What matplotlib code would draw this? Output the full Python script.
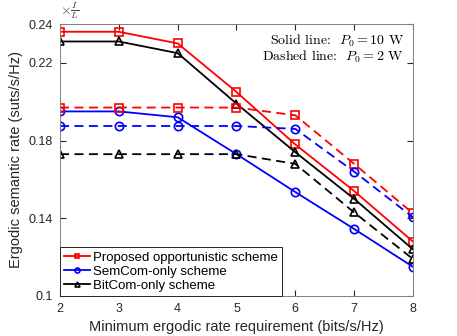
import matplotlib.pyplot as plt
import numpy as np

plt.rcParams['mathtext.fontset'] = 'cm'
plt.rcParams['font.family'] = ['Liberation Sans', 'DejaVu Sans']

x = [2, 3, 4, 5, 6, 7, 8]

# solid lines: P0 = 10 W
prop_10 = [0.236, 0.236, 0.230, 0.205, 0.178, 0.154, 0.128]
sem_10 = [0.195, 0.195, 0.192, 0.173, 0.1535, 0.1345, 0.115]
bit_10 = [0.231, 0.231, 0.225, 0.199, 0.174, 0.150, 0.124]

# dashed lines: P0 = 2 W
prop_2 = [0.197, 0.197, 0.197, 0.197, 0.193, 0.168, 0.1425]
sem_2 = [0.1875, 0.1875, 0.1875, 0.1875, 0.186, 0.164, 0.1405]
bit_2 = [0.173, 0.173, 0.173, 0.173, 0.168, 0.143, 0.119]

names = ['Proposed opportunistic scheme', 'SemCom-only scheme', 'BitCom-only scheme']
yticks = [0.1, 0.14, 0.18, 0.22, 0.24]

fig = plt.figure(figsize=(4.57, 3.36), dpi=100)
ax = fig.add_axes([60/457, 40/336, 353/457, 272/336])

styles = [('r', 's'), ('b', 'o'), ('k', '^')]
for (c, m), y, lab in zip(styles, [prop_10, sem_10, bit_10], names):
    ax.plot(x, y, color=c, marker=m, mfc='none', ms=6, mew=1.2, lw=1.3, label=lab)
for (c, m), y in zip(styles, [prop_2, sem_2, bit_2]):
    ax.plot(x, y, color=c, marker=m, mfc='none', ms=6, mew=1.2, lw=1.3, ls=(0, (5, 3)))

ax.set_xlim(2, 8)
ax.set_ylim(0.1, 0.24)
ax.set_xticks(x)
ax.set_yticks(yticks)
ax.set_yticklabels(['0.1', '0.14', '0.18', '0.22', '0.24'])
ax.tick_params(direction='in', top=True, right=True, labelsize=9, colors='#262626', length=4, pad=5)
for s in ax.spines.values():
    s.set_color('#808080')
    s.set_linewidth(0.7)

ax.set_xlabel('Minimum ergodic rate requirement (bits/s/Hz)', fontsize=10.5, color='#262626')
ax.set_ylabel('Ergodic semantic rate (suts/s/Hz)', fontsize=10.5, color='#262626')

ax.text(0.975, 0.94, r'Solid line:  $P_0=10$ W', transform=ax.transAxes,
        ha='right', va='center', fontsize=10, family='cmr10')
ax.text(0.975, 0.88, r'Dashed line:  $P_0=2$ W', transform=ax.transAxes,
        ha='right', va='center', fontsize=10, family='cmr10')
ax.text(0.0, 1.01, r'$\times\frac{I}{L}$', transform=ax.transAxes, ha='left', va='bottom',
        fontsize=10, color='#404040')

leg = ax.legend(loc='lower left', bbox_to_anchor=(0, 0), borderaxespad=0, fontsize=9.5,
                fancybox=False, edgecolor='#262626', handlelength=2.0, handletextpad=0.2,
                labelspacing=0.15, borderpad=0.3, markerscale=0.6, framealpha=1)
leg.get_frame().set_linewidth(0.7)

fig.savefig('out.png', dpi=100)
